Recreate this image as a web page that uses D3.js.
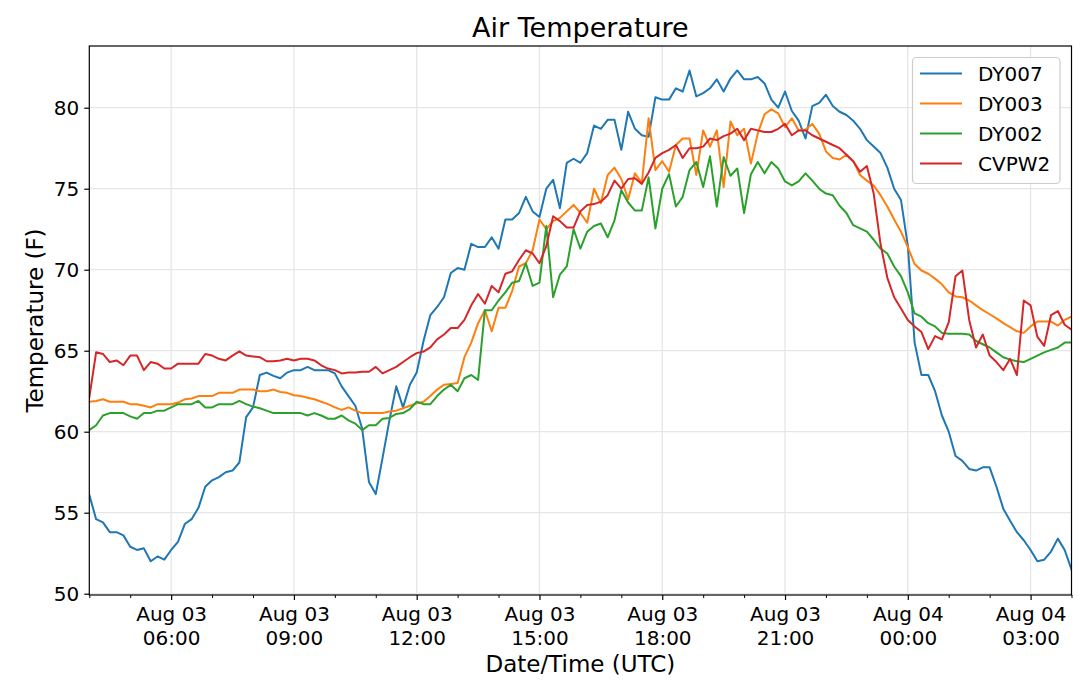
<!DOCTYPE html>
<html>
<head>
<meta charset="utf-8">
<script src="https://cdn.jsdelivr.net/npm/d3@7"></script>
<style>
  html, body { margin: 0; padding: 0; background: #fff; }
  svg { display: block; font-family: "DejaVu Sans", sans-serif; }
</style>
</head>
<body>
<svg id="chart" width="1080" height="687"></svg>
<script>
// ---- data (10-minute samples starting Aug 03 04:00 UTC) ----
const startTimeUTC = Date.UTC(2019, 7, 3, 4, 0);
const stepMinutes = 10;

const seriesNames = ["DY007", "DY003", "DY002", "CVPW2"];
const seriesColors = ["#1f77b4", "#ff7f0e", "#2ca02c", "#d62728"];

const dy007 = [
56.1, 54.6, 54.4, 53.8, 53.8, 53.6, 52.9, 52.7, 52.8, 52.0,
52.3, 52.1, 52.7, 53.2, 54.3, 54.6, 55.3, 56.6, 57.0, 57.2,
57.5, 57.6, 58.1, 60.9, 61.5, 63.5, 63.65, 63.45, 63.3, 63.65,
63.8, 63.8, 64.0, 63.8, 63.8, 63.8, 63.6, 62.8, 62.2, 61.6,
60.2, 56.9, 56.15, 58.4, 60.7, 62.8, 61.5, 62.9, 63.65, 65.6,
67.2, 67.7, 68.3, 69.8, 70.1, 70.0, 71.6, 71.4, 71.4, 72.0,
71.3, 73.1, 73.1, 73.5, 74.5, 73.6, 73.25, 75.0, 75.55, 73.8,
76.6, 76.85, 76.6, 77.2, 78.9, 78.7, 79.25, 79.25, 77.4, 79.75,
78.7, 78.3, 78.2, 80.65, 80.5, 80.5, 81.2, 81.0, 82.3, 80.7,
80.9, 81.2, 81.75, 81.0, 81.8, 82.3, 81.75, 81.75, 81.9, 81.5,
80.5, 80.0, 81.0, 79.8, 79.2, 78.1, 80.1, 80.3, 80.8, 80.1,
79.75, 79.55, 79.2, 78.7, 78.0, 77.6, 77.2, 76.3, 75.0, 74.3,
71.5, 65.5, 63.5, 63.5, 62.5, 61.0, 60.0, 58.5, 58.2, 57.7,
57.6, 57.8, 57.8, 56.6, 55.25, 54.5, 53.8, 53.3, 52.7, 52.0,
52.1, 52.6, 53.4, 52.7, 51.5
];

const dy003 = [
61.85, 61.9, 62.0, 61.85, 61.85, 61.85, 61.7, 61.7, 61.6, 61.5,
61.7, 61.7, 61.7, 61.8, 62.0, 62.05, 62.2, 62.2, 62.2, 62.4,
62.4, 62.4, 62.6, 62.6, 62.6, 62.5, 62.5, 62.6, 62.45, 62.4,
62.25, 62.2, 62.1, 62.0, 61.85, 61.7, 61.5, 61.35, 61.5, 61.3,
61.15, 61.15, 61.15, 61.15, 61.25, 61.3, 61.45, 61.6, 61.75, 61.85,
62.2, 62.6, 62.9, 62.95, 63.0, 64.6, 65.5, 66.7, 67.5, 66.2,
67.65, 67.65, 68.7, 70.2, 70.4, 71.2, 73.1, 72.5, 73.0, 73.2,
73.6, 74.0, 73.5, 72.9, 75.0, 74.1, 75.85, 76.3, 75.6, 74.35,
75.95, 75.35, 79.35, 76.15, 76.7, 76.05, 77.7, 78.1, 78.1, 75.85,
78.6, 77.6, 78.6, 75.1, 79.15, 78.3, 78.7, 76.55, 78.4, 79.6,
79.9, 79.65, 78.8, 79.35, 78.6, 78.65, 79.0, 78.4, 77.3, 76.9,
76.8, 77.1, 76.7, 75.85, 75.5, 75.2, 74.6, 73.9, 73.1, 72.35,
71.4, 70.35, 69.95, 69.75, 69.45, 69.1, 68.6, 68.35, 68.3, 68.1,
67.8, 67.5, 67.25, 67.0, 66.7, 66.45, 66.2, 66.1, 66.5, 66.8,
66.8, 66.8, 66.55, 66.9, 67.1
];

const dy002 = [
60.1, 60.4, 61.0, 61.15, 61.15, 61.15, 60.95, 60.8, 61.15, 61.15,
61.3, 61.3, 61.5, 61.7, 61.7, 61.7, 61.9, 61.5, 61.5, 61.7,
61.7, 61.7, 61.9, 61.7, 61.55, 61.45, 61.3, 61.15, 61.15, 61.15,
61.15, 61.15, 61.0, 61.15, 61.0, 60.8, 60.8, 61.0, 60.7, 60.5,
60.1, 60.4, 60.4, 60.8, 60.85, 61.1, 61.15, 61.4, 61.85, 61.7,
61.7, 62.2, 62.6, 62.9, 62.5, 63.3, 63.5, 63.2, 67.5, 67.5,
68.1, 68.6, 69.2, 69.3, 70.4, 69.0, 69.2, 72.7, 68.3, 69.7,
70.2, 72.5, 71.3, 72.35, 72.7, 72.85, 72.0, 73.05, 74.9, 74.15,
73.65, 73.65, 75.7, 72.55, 75.0, 75.9, 73.9, 74.5, 76.15, 76.65,
75.1, 77.0, 73.9, 76.95, 75.8, 76.25, 73.5, 75.9, 76.65, 75.95,
76.65, 76.25, 75.45, 75.2, 75.45, 75.95, 75.5, 75.0, 74.7, 74.6,
73.95, 73.5, 72.75, 72.55, 72.35, 71.85, 71.3, 71.0, 70.2, 69.6,
68.6, 67.3, 67.1, 66.7, 66.5, 66.1, 66.05, 66.05, 66.05, 66.0,
65.6, 65.4, 65.2, 64.9, 64.6, 64.45, 64.35, 64.3, 64.5, 64.7,
64.9, 65.05, 65.2, 65.5, 65.5
];

const cvpw2 = [
62.1, 64.9, 64.8, 64.3, 64.4, 64.1, 64.7, 64.7, 63.8, 64.3,
64.2, 63.9, 63.9, 64.2, 64.2, 64.2, 64.2, 64.8, 64.7, 64.5,
64.4, 64.7, 64.96, 64.7, 64.65, 64.6, 64.35, 64.35, 64.4, 64.5,
64.4, 64.5, 64.5, 64.4, 64.1, 63.9, 63.8, 63.6, 63.65, 63.65,
63.7, 63.7, 64.0, 63.6, 63.8, 64.0, 64.3, 64.6, 64.85, 64.95,
65.2, 65.7, 66.0, 66.4, 66.4, 66.9, 67.8, 68.5, 67.9, 69.0,
68.6, 69.75, 69.9, 70.6, 71.2, 71.0, 70.4, 71.45, 73.3, 73.0,
72.6, 72.6, 73.6, 74.0, 74.05, 74.2, 74.6, 75.5, 75.0, 75.6,
75.65, 75.3, 76.0, 76.9, 77.2, 77.4, 77.7, 76.9, 77.5, 77.5,
77.6, 78.1, 78.0, 78.25, 78.4, 78.7, 78.0, 78.7, 78.6, 78.5,
78.5, 78.7, 79.0, 78.3, 78.6, 78.6, 78.3, 78.1, 77.9, 77.7,
77.5, 77.1, 76.7, 76.05, 76.4, 74.7, 71.6, 69.5, 68.3, 67.6,
66.9, 66.5, 66.15, 65.1, 65.9, 65.7, 66.75, 69.6, 69.95, 66.9,
65.2, 66.0, 64.7, 64.3, 63.8, 64.5, 63.5, 68.1, 67.8, 65.85,
65.3, 67.2, 67.45, 66.6, 66.3
];

const yTicks = [50, 55, 60, 65, 70, 75, 80];
const titleText = "Air Temperature";
const xLabelText = "Date/Time (UTC)";
const yLabelText = "Temperature (F)";

// ---- layout ----
const svg = d3.select("#chart");
const W = 1080, H = 687;
const plot = { left: 89.3, right: 1071.5, top: 46, bottom: 595 };
const font = '"DejaVu Sans", sans-serif';

svg.append("rect").attr("width", W).attr("height", H).attr("fill", "#fff");

const times = dy007.map((_, i) => new Date(startTimeUTC + i * stepMinutes * 60000));
const allSeries = [dy007, dy003, dy002, cvpw2];

const x = d3.scaleUtc().domain(d3.extent(times)).range([plot.left, plot.right]);
const y = d3.scaleLinear().domain([49.92, 83.81]).range([plot.bottom, plot.top]);

const majorTicks = d3.utcHour.every(3).range(x.domain()[0], new Date(+x.domain()[1] + 1)).filter(d => d.getUTCHours() % 3 === 0);
const minorTicks = d3.utcHour.range(x.domain()[0], new Date(+x.domain()[1] + 1)).filter(d => d.getUTCHours() % 3 !== 0);

// grid
const grid = svg.append("g").attr("stroke", "#e6e6e6").attr("stroke-width", 1.3);
grid.selectAll("line.vx").data(majorTicks).join("line")
  .attr("x1", d => x(d)).attr("x2", d => x(d))
  .attr("y1", plot.top).attr("y2", plot.bottom);
grid.selectAll("line.hy").data(yTicks).join("line")
  .attr("x1", plot.left).attr("x2", plot.right)
  .attr("y1", d => y(d)).attr("y2", d => y(d));

// clip
svg.append("clipPath").attr("id", "clip").append("rect")
  .attr("x", plot.left).attr("y", plot.top)
  .attr("width", plot.right - plot.left).attr("height", plot.bottom - plot.top);

const line = d3.line().x((d, i) => x(times[i])).y(d => y(d));
const lines = svg.append("g").attr("clip-path", "url(#clip)");
allSeries.forEach((s, k) => {
  lines.append("path").datum(s)
    .attr("d", line)
    .attr("fill", "none")
    .attr("stroke", seriesColors[k])
    .attr("stroke-width", 2)
    .attr("stroke-linejoin", "round")
    .attr("stroke-linecap", "square");
});

// axes with d3
const fmtTop = d3.utcFormat("%b %d");
const fmtBot = d3.utcFormat("%H:%M");

const xAxis = d3.axisBottom(x).tickValues(majorTicks).tickSize(5).tickPadding(5).tickFormat("");
const gx = svg.append("g").attr("transform", `translate(0,${plot.bottom})`).call(xAxis);
gx.select(".domain").remove();
gx.selectAll(".tick line").attr("stroke", "#000").attr("stroke-width", 1.2);
gx.selectAll(".tick").each(function(d) {
  const t = d3.select(this).append("text")
    .attr("fill", "#000").attr("font-family", font).attr("font-size", 20)
    .attr("text-anchor", "middle");
  t.append("tspan").attr("x", 0).attr("y", 25.7).text(fmtTop(d));
  t.append("tspan").attr("x", 0).attr("y", 49.7).text(fmtBot(d));
});

const xMinor = d3.axisBottom(x).tickValues(minorTicks).tickSize(3).tickFormat("");
const gxm = svg.append("g").attr("transform", `translate(0,${plot.bottom})`).call(xMinor);
gxm.select(".domain").remove();
gxm.selectAll(".tick line").attr("stroke", "#000").attr("stroke-width", 1);

const yAxis = d3.axisLeft(y).tickValues(yTicks).tickSize(5).tickPadding(5).tickFormat(d3.format("d"));
const gy = svg.append("g").attr("transform", `translate(${plot.left},0)`).call(yAxis);
gy.select(".domain").remove();
gy.selectAll(".tick line").attr("stroke", "#000").attr("stroke-width", 1.2);
gy.selectAll(".tick text").attr("fill", "#000").attr("font-family", font).attr("font-size", 20);

// spines
svg.append("rect")
  .attr("x", plot.left).attr("y", plot.top)
  .attr("width", plot.right - plot.left).attr("height", plot.bottom - plot.top)
  .attr("fill", "none").attr("stroke", "#000").attr("stroke-width", 1.2);

// title & labels
const cx = (plot.left + plot.right) / 2;
svg.append("text").attr("x", cx).attr("y", 37).attr("text-anchor", "middle")
  .attr("font-family", font).attr("font-size", 27).attr("fill", "#000").text(titleText);
svg.append("text").attr("x", cx).attr("y", 671.5).attr("text-anchor", "middle")
  .attr("font-family", font).attr("font-size", 23).attr("fill", "#000").text(xLabelText);
svg.append("text")
  .attr("transform", `translate(43,${(plot.top + plot.bottom) / 2}) rotate(-90)`)
  .attr("text-anchor", "middle")
  .attr("font-family", font).attr("font-size", 23).attr("fill", "#000").text(yLabelText);

// legend
const lg = svg.append("g");
lg.append("rect").attr("x", 912.5).attr("y", 57.5).attr("width", 147.5).attr("height", 126)
  .attr("rx", 4).attr("fill", "#fff").attr("fill-opacity", 0.8)
  .attr("stroke", "#cccccc").attr("stroke-width", 1.2);
const rowY = d3.scalePoint().domain(seriesNames).range([73.5, 163.5]);
seriesNames.forEach((name, k) => {
  const yy = rowY(name);
  lg.append("line").attr("x1", 920).attr("x2", 962).attr("y1", yy).attr("y2", yy)
    .attr("stroke", seriesColors[k]).attr("stroke-width", 2);
  lg.append("text").attr("x", 978).attr("y", yy).attr("dy", "0.36em")
    .attr("font-family", font).attr("font-size", 20).attr("fill", "#000").text(name);
});
</script>
</body>
</html>
